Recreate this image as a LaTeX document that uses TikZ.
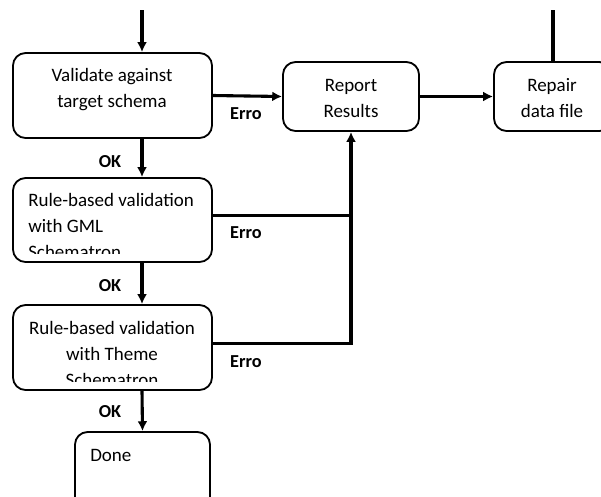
\documentclass[tikz,border=0pt]{standalone}
\usepackage{fontspec}
\setmainfont{Carlito}
\usetikzlibrary{arrows.meta}
\newcommand{\flowbox}[5]{\node[draw,rectangle,rounded corners=9pt,line width=1.3pt,minimum width=#4cm,minimum height=#5cm,inner sep=0pt] (#1) at (#2,#3) {};}
\newcommand{\flow}[2]{\draw[line width=2.2pt,-{Latex[length=7pt,width=7pt]}] (#1) -- (#2);}
\newcommand{\link}[2]{\draw[line width=2.2pt] (#1) -- (#2);}
\newcommand{\flowlabel}[3]{\node[font=\fontsize{13}{15}\selectfont\bfseries] at (#1,#2) {#3};}

\begin{document}
\begin{tikzpicture}[x=0.025cm,y=-0.025cm,every node/.style={font=\fontsize{13.5}{18.5}\selectfont}]
    \useasboundingbox (0,0) rectangle (601,496); \clip (0,0) rectangle (601,496);
    \fill[white] (0,0) rectangle (601,496);
    \flowbox{val}{112.5}{95.5}{4.975}{2.125}
    \flowbox{gml}{112.5}{220}{4.975}{2.1}
    \flowbox{theme}{112.5}{347.5}{4.975}{2.125}
    \flowbox{done}{142.5}{474.5}{3.375}{2.125}
    \flowbox{report}{351}{96.5}{3.4}{1.725}
    \flowbox{repair}{553}{96.5}{2.95}{1.725}
    % box texts
    \node[align=center,inner sep=0pt] (valtext) at (112,90) {Validate against\\target schema};
    \begin{scope} \clip ([yshift=6.4pt]gml.south west) rectangle (gml.north east);
    \node[align=left,anchor=west,inner sep=0pt] (gmltext) at (28,226) {Rule-based validation\\with GML\\Schematron};
    \end{scope}
    \begin{scope} \clip ([yshift=7pt]theme.south west) rectangle (theme.north east);
    \node[align=center,inner sep=0pt] (themetext) at (112,354) {Rule-based validation\\with Theme\\Schematron};
    \end{scope}
    \node[anchor=base west,inner sep=0pt] (donetext) at (90,461) {Done};
    \node[align=center,inner sep=0pt] (reporttext) at (351,98) {Report\\Results};
    \node[align=center,inner sep=0pt] (repairtext) at (552,98) {Repair\\data file};
    % connectors
    \coordinate (in) at (142,10); \coordinate (back) at (553,10);
    \flow{in}{val.north -| in}
    \flow{val.south -| in}{gml.north -| in}
    \flow{gml.south -| in}{theme.north -| in}
    \flow{theme.south -| in}{done.north}
    \flow{val.east}{report.west}
    \flow{report.east}{repair.west}
    \link{back}{repair.north}
    \draw[line width=2.2pt,-{Latex[length=7pt,width=7pt]}] ([yshift=3pt]theme.east) -| (report.south);
    \link{[yshift=3pt]gml.east}{[yshift=3pt]gml.east -| report.south}
    \flowlabel{110}{162}{OK} \flowlabel{110}{286}{OK} \flowlabel{110}{412}{OK}
    \flowlabel{246}{114}{Erro} \flowlabel{246}{233}{Erro} \flowlabel{246}{362}{Erro}
\end{tikzpicture}
\end{document}
